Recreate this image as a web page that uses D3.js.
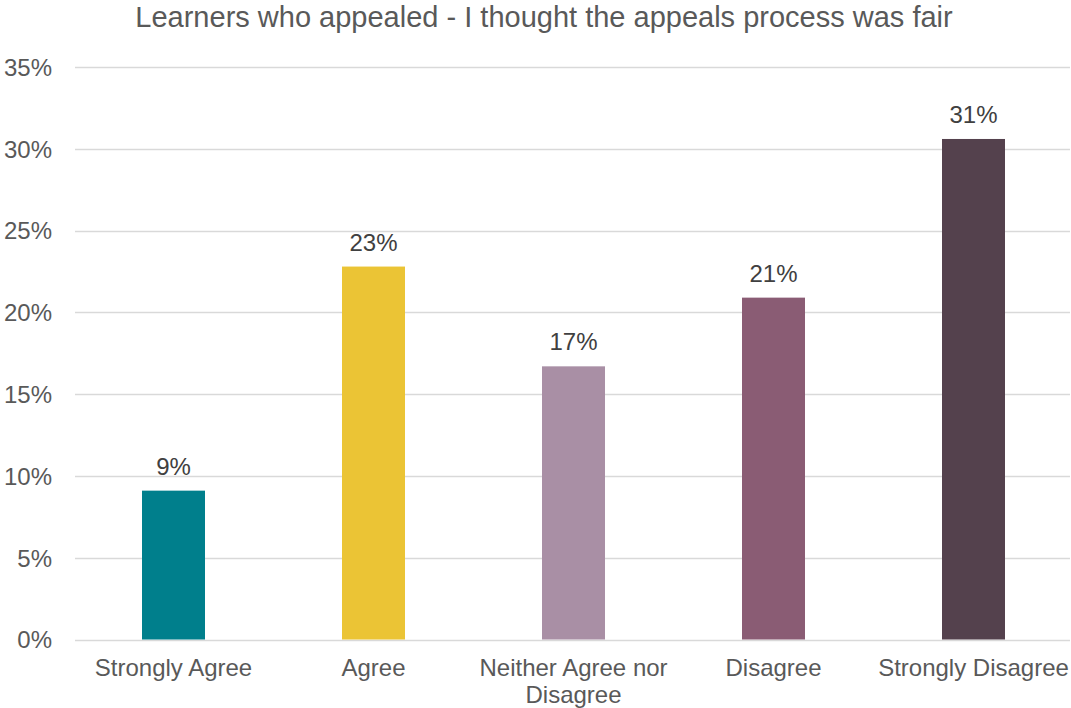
<!DOCTYPE html>
<html>
<head>
<meta charset="utf-8">
<script src="https://cdn.jsdelivr.net/npm/d3@7"></script>
<style>
  html, body { margin: 0; padding: 0; background: #ffffff; }
  svg text { font-family: "Liberation Sans", Arial, sans-serif; }
</style>
</head>
<body>
<svg id="chart" width="1071" height="708"></svg>
<script>
// Survey responses: share of learners who appealed
const categories = ["Strongly Agree", "Agree", "Neither Agree nor Disagree", "Disagree", "Strongly Disagree"];
const shares = [0.091, 0.228, 0.167, 0.209, 0.306];
const barColors = ["#007F8C", "#EBC435", "#A98FA5", "#8A5C74", "#54414D"];
const yTicks = [0, 0.05, 0.10, 0.15, 0.20, 0.25, 0.30, 0.35];
const title = "Learners who appealed - I thought the appeals process was fair";

const svg = d3.select("#chart");
const width = 1071, height = 708;
const plotTop = 67, plotBottom = 640, gridLeft = 75, gridRight = 1070;

const x = d3.scaleBand()
  .domain(categories)
  .range([73.5, 1073.5])
  .paddingInner(0.685)
  .paddingOuter(0.3425);

const y = d3.scaleLinear()
  .domain([0, 0.35])
  .range([plotBottom - 0.5, plotTop]);

const pct = d3.format(".0%");

// Title
svg.append("text")
  .attr("x", 544)
  .attr("y", 27)
  .attr("text-anchor", "middle")
  .attr("font-size", 29)
  .attr("fill", "#595959")
  .text(title);

// Horizontal gridlines
svg.append("g")
  .selectAll("line")
  .data(yTicks)
  .join("line")
  .attr("x1", gridLeft)
  .attr("x2", gridRight)
  .attr("y1", d => Math.round(y(d)) + 0.5)
  .attr("y2", d => Math.round(y(d)) + 0.5)
  .attr("stroke", "#D9D9D9")
  .attr("stroke-width", 1.5);

// Y axis labels
const yAxis = d3.axisLeft(y).tickValues(yTicks).tickFormat(pct).tickSize(0).tickPadding(0);
const yg = svg.append("g")
  .attr("transform", `translate(52,0)`)
  .call(yAxis);
yg.select(".domain").remove();
yg.selectAll("text")
  .attr("font-size", 24)
  .attr("fill", "#595959")
  .attr("dy", "0.35em")
  .style("font-family", "'Liberation Sans', Arial, sans-serif");

// Bars
svg.append("g")
  .selectAll("rect")
  .data(categories)
  .join("rect")
  .attr("x", d => x(d))
  .attr("width", x.bandwidth())
  .attr("y", (d, i) => y(shares[i]))
  .attr("height", (d, i) => y(0) - y(shares[i]))
  .attr("fill", (d, i) => barColors[i]);

// Value labels
svg.append("g")
  .selectAll("text")
  .data(categories)
  .join("text")
  .attr("x", d => x(d) + x.bandwidth() / 2)
  .attr("y", (d, i) => y(shares[i]) - 16)
  .attr("text-anchor", "middle")
  .attr("font-size", 24)
  .attr("fill", "#404040")
  .text((d, i) => pct(shares[i]));

// Category labels (wrapped where the band is too narrow)
const xAxis = d3.axisBottom(x).tickSize(0).tickPadding(0);
const xg = svg.append("g")
  .attr("transform", `translate(0,${plotBottom})`)
  .call(xAxis);
xg.select(".domain").remove();
xg.selectAll("text").remove();
xg.selectAll(".tick").each(function(d) {
  const t = d3.select(this).append("text")
    .attr("text-anchor", "middle")
    .attr("font-size", 24)
    .attr("fill", "#595959")
    .attr("y", 36);
  const lines = d === "Neither Agree nor Disagree" ? ["Neither Agree nor", "Disagree"] : [d];
  lines.forEach((ln, k) => {
    t.append("tspan").attr("x", 0).attr("dy", k === 0 ? 0 : 27).text(ln);
  });
});
</script>
</body>
</html>
